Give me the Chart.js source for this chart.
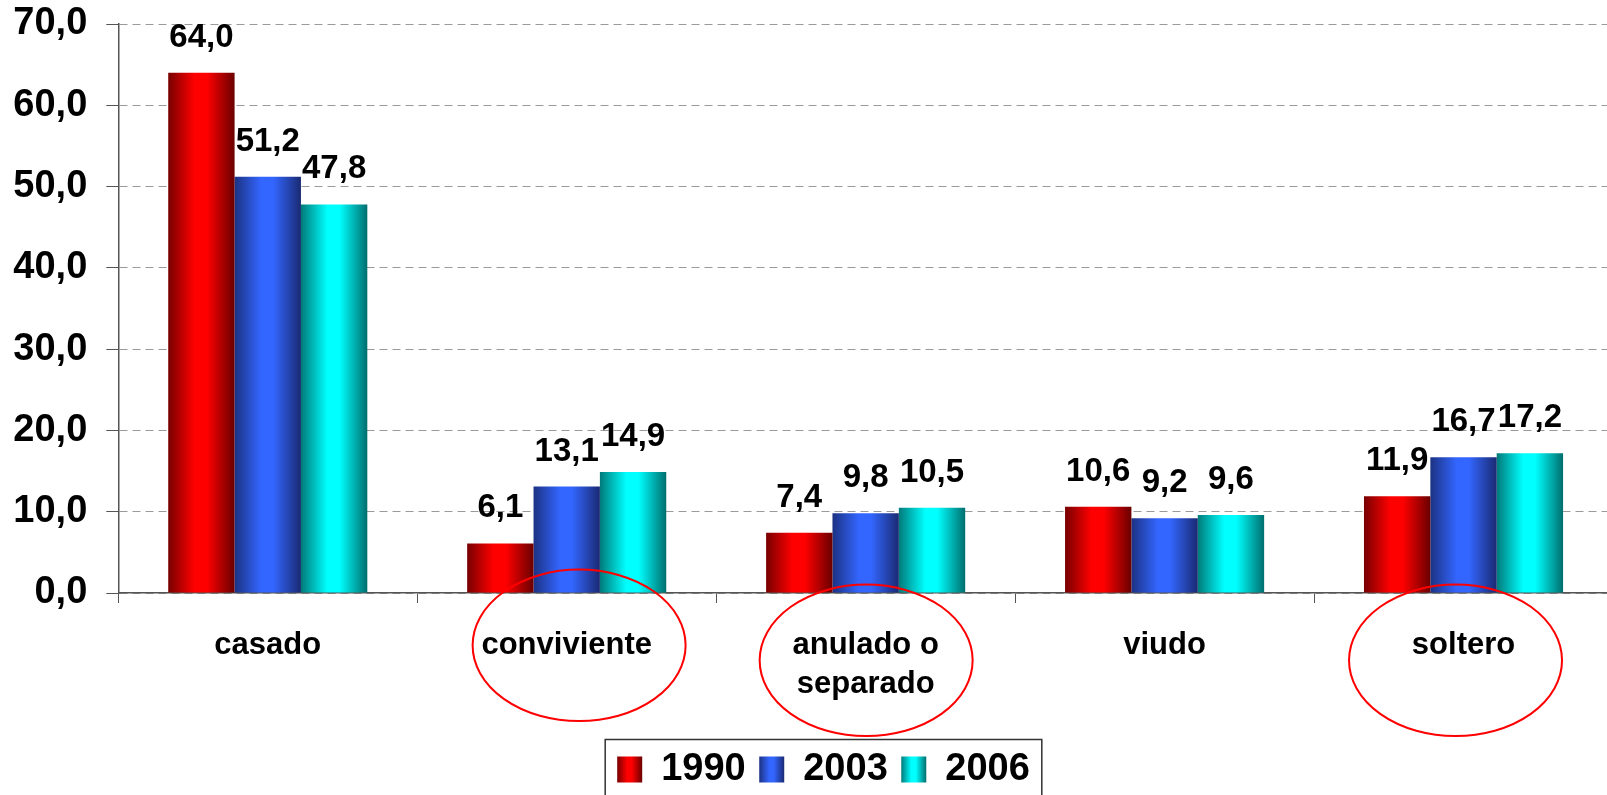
<!DOCTYPE html>
<html lang="es">
<head>
    <meta charset="UTF-8">
    <title>Estado civil 1990 - 2003 - 2006</title>
    <script src="https://cdn.jsdelivr.net/npm/chart.js"></script>
    <style>
        body {
            margin: 0;
            padding: 0;
            background: #fff;
            overflow: hidden;
        }
        #wrap {
            width: 1620px;
            height: 800px;
        }
    </style>
</head>
<body>
    <div id="wrap">
        <canvas id="barChart" width="1620" height="800"></canvas>
    </div>

    <script>
        // data
        const categories = ['casado', 'conviviente', ['anulado o', 'separado'], 'viudo', 'soltero'];
        const seriesNames = ['1990', '2003', '2006'];
        const v1990 = [64.0, 6.1, 7.4, 10.6, 11.9];
        const v2003 = [51.2, 13.1, 9.8, 9.2, 16.7];
        const v2006 = [47.8, 14.9, 10.5, 9.6, 17.2];
        const yTicks = [0, 10, 20, 30, 40, 50, 60, 70];

        // the red circles drawn round some categories
        const circledCats = [1, 2, 4];
        const circleDx = [12.4, 0.5, -8];
        const circleDy = [52.3, 67.3, 67.3];

        // gradient stops: edge, bright, edge
        const shades = [
            ['#780000', '#ff0000', '#6a0000'],
            ['#1c3283', '#3366ff', '#1a2a72'],
            ['#007a7a', '#00ffff', '#006e6e']
        ];

        const FONT = "'Liberation Sans', Arial, sans-serif";
        Chart.defaults.font.family = FONT;
        Chart.defaults.color = '#000';

        const fmt = v => v.toFixed(1).replace('.', ',');

        function makeGrad(ctx, left, width, s) {
            const g = ctx.createLinearGradient(left, 0, left + width, 0);
            g.addColorStop(0, s[0]);
            g.addColorStop(0.4, s[1]);
            g.addColorStop(0.58, s[1]);
            g.addColorStop(1, s[2]);
            return g;
        }

        const shadingPlugin = {
            id: 'shading',
            afterLayout(chart) {
                // legend sits a little right of the centre in the original
                chart.legend.left += 17;
                chart.legend.right += 17;
            },
            beforeDraw(chart) {
                const ctx = chart.ctx;
                const legend = chart.legend;
                legend.legendItems.forEach((item, i) => {
                    const hb = legend.legendHitBoxes[i];
                    item.fillStyle = makeGrad(ctx, hb.left, 25, shades[item.datasetIndex]);
                    item.lineWidth = 0;
                });
            },
            beforeDatasetsDraw(chart) {
                const ctx = chart.ctx;
                chart.data.datasets.forEach((ds, i) => {
                    chart.getDatasetMeta(i).data.forEach(el => {
                        const p = el.getProps(['x', 'width'], true);
                        const left = p.x - p.width / 2;
                        el.options = Object.assign({}, el.options, {
                            backgroundColor: makeGrad(ctx, left, p.width, shades[i])
                        });
                    });
                });
            },
            afterDatasetsDraw(chart) {
                const ctx = chart.ctx;
                ctx.save();
                ctx.font = 'bold 33px ' + FONT;
                ctx.fillStyle = '#000';
                ctx.textAlign = 'center';
                ctx.textBaseline = 'alphabetic';
                chart.data.datasets.forEach((ds, i) => {
                    chart.getDatasetMeta(i).data.forEach((el, j) => {
                        ctx.fillText(fmt(ds.data[j]), el.x, el.y - 26);
                    });
                });
                ctx.restore();
            },
            afterDraw(chart) {
                const ctx = chart.ctx;
                const xs = chart.scales.x;
                const bottom = chart.chartArea.bottom;
                ctx.save();
                // circles
                ctx.strokeStyle = '#ff0000';
                ctx.lineWidth = 2;
                circledCats.forEach((c, k) => {
                    ctx.beginPath();
                    ctx.ellipse(xs.getPixelForValue(c) + circleDx[k], bottom + circleDy[k], 106.5, 75.7, 0, 0, Math.PI * 2);
                    ctx.stroke();
                });
                // legend frame
                const legend = chart.legend;
                const hbs = legend.legendHitBoxes;
                const last = hbs[hbs.length - 1];
                const l = hbs[0].left - 12;
                const r = last.left + last.width + 12;
                const t = legend.top + 2.5;
                ctx.strokeStyle = '#333';
                ctx.lineWidth = 1.5;
                ctx.beginPath();
                ctx.moveTo(l, legend.bottom + 30);
                ctx.lineTo(l, t);
                ctx.lineTo(r, t);
                ctx.lineTo(r, legend.bottom + 30);
                ctx.stroke();
                ctx.restore();
            }
        };

        const values = [v1990, v2003, v2006];

        new Chart(document.getElementById('barChart').getContext('2d'), {
            type: 'bar',
            data: {
                labels: categories,
                datasets: seriesNames.map((name, i) => ({
                    label: name,
                    data: values[i],
                    backgroundColor: shades[i][1],
                    borderWidth: 0,
                    categoryPercentage: 0.666,
                    barPercentage: 1.0
                }))
            },
            options: {
                responsive: false,
                devicePixelRatio: 1,
                animation: false,
                layout: {
                    padding: { left: 0, right: 7, top: 24, bottom: 1.5 }
                },
                plugins: {
                    tooltip: { enabled: false },
                    legend: {
                        position: 'bottom',
                        labels: {
                            boxWidth: 25,
                            boxHeight: 26,
                            padding: 13.5,
                            color: '#000',
                            font: { size: 38, weight: 'bold' }
                        }
                    }
                },
                scales: {
                    x: {
                        afterFit: scale => { scale.height = 144; },
                        grid: {
                            drawOnChartArea: false,
                            drawTicks: true,
                            tickLength: 10,
                            color: '#555',
                            offset: true
                        },
                        border: { color: '#555', width: 1.5 },
                        ticks: {
                            autoSkip: false,
                            maxRotation: 0,
                            padding: 23,
                            color: '#000',
                            font: { size: 31, weight: 'bold', lineHeight: 1.25 }
                        }
                    },
                    y: {
                        min: yTicks[0],
                        max: yTicks[yTicks.length - 1],
                        afterFit: scale => {
                            scale.width = 118.3;
                            scale.paddingTop = 0;
                            scale.paddingBottom = 0;
                        },
                        afterBuildTicks: scale => {
                            scale.ticks = yTicks.map(v => ({ value: v }));
                        },
                        grid: {
                            color: '#9a9a9a',
                            lineWidth: 1,
                            tickLength: 12,
                            tickColor: '#555',
                            tickBorderDash: []
                        },
                        border: { color: '#555', width: 1.5, dash: [8, 5] },
                        ticks: {
                            padding: 19,
                            color: '#000',
                            font: { size: 38, weight: 'bold' },
                            callback: v => fmt(v)
                        }
                    }
                }
            },
            plugins: [shadingPlugin]
        });
    </script>
</body>
</html>
